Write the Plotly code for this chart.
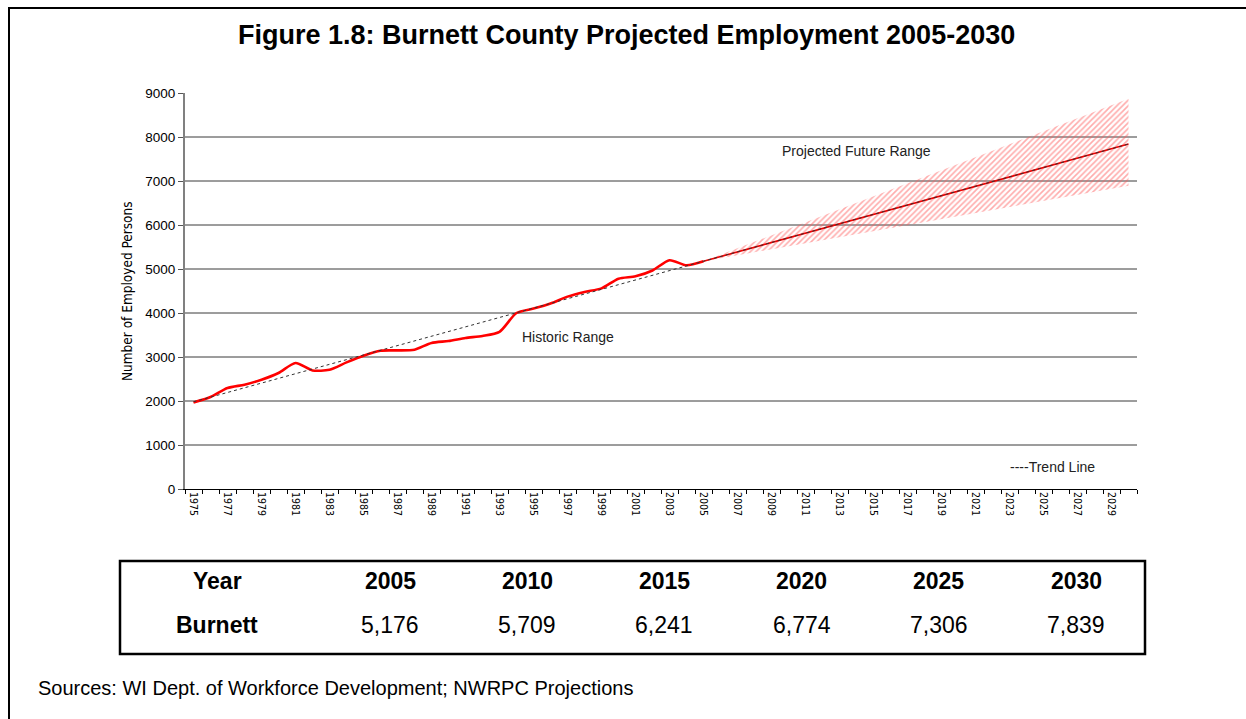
import plotly.graph_objects as go

# ---------------- data ----------------
hist_years = list(range(1975, 2006))
hist_emp = [1968, 2091, 2295, 2370, 2484, 2636, 2864, 2695, 2711, 2877,
            3030, 3143, 3150, 3166, 3320, 3363, 3433, 3479, 3572, 4000,
            4100, 4216, 4372, 4479, 4560, 4780, 4835, 4967, 5200, 5084, 5176]

proj_years = [2005, 2010, 2015, 2020, 2025, 2030]
proj_emp = [5176, 5709, 6241, 6774, 7306, 7839]
range_high = [5176, 5915, 6654, 7393, 8131, 8870]
range_low = [5176, 5519, 5862, 6205, 6547, 6890]

trend_years = [1975, 2030]
trend_emp = [1981, 7839]

x_tick_years = list(range(1975, 2030, 2))
y_ticks = list(range(0, 9001, 1000))
grid_vals = list(range(1000, 9000, 1000))

table_row_label = "Burnett"
table_head_label = "Year"

title_text = "Figure 1.8: Burnett County Projected Employment 2005-2030"
source_text = "Sources: WI Dept. of Workforce Development; NWRPC Projections"

# ---------------- layout helpers ----------------
W, H = 1246, 719
L, R, T, B = 185, 1137, 93, 489


def px(x):
    return (x - L) / (R - L)


def py(y):
    return (B - y) / (B - T)


SANS = "Liberation Sans, Arial, sans-serif"
NARROW = "Liberation Sans Narrow, Arial Narrow, DejaVu Sans Condensed, sans-serif"

fig = go.Figure()

# projected range band (hatched)
fig.add_trace(go.Scatter(x=proj_years, y=range_low, mode="lines",
                         line=dict(width=0, color="rgba(0,0,0,0)"),
                         hoverinfo="skip"))
fig.add_trace(go.Scatter(x=proj_years, y=range_high, mode="lines",
                         line=dict(width=0, color="rgba(0,0,0,0)"),
                         fill="tonexty", fillcolor="rgba(0,0,0,0)",
                         fillpattern=dict(shape="/", fgcolor="#ff5a5a",
                                          bgcolor="rgba(255,255,255,0)",
                                          size=4, solidity=0.4),
                         hoverinfo="skip"))

# historic line
fig.add_trace(go.Scatter(x=hist_years, y=hist_emp, mode="lines",
                         line=dict(color="#ff0000", width=2.6, shape="spline",
                                   smoothing=0.7)))
# projection line
fig.add_trace(go.Scatter(x=proj_years, y=proj_emp, mode="lines",
                         line=dict(color="#f00000", width=1.6)))
# trend line
fig.add_trace(go.Scatter(x=trend_years, y=trend_emp, mode="lines",
                         line=dict(color="#333333", width=1, dash="3px,3px")))

shapes = []
for v in grid_vals:
    shapes.append(dict(type="line", xref="paper", yref="y", x0=0, x1=1,
                       y0=v, y1=v, line=dict(color="#3a3a3a", width=1),
                       layer="below"))

# outer frame (top and left lines)
shapes.append(dict(type="line", xref="paper", yref="paper",
                   x0=px(8), x1=px(W + 5), y0=py(8), y1=py(8),
                   line=dict(color="black", width=2)))
shapes.append(dict(type="line", xref="paper", yref="paper",
                   x0=px(9), x1=px(9), y0=py(8), y1=py(H + 5),
                   line=dict(color="black", width=2)))

# table box
shapes.append(dict(type="rect", xref="paper", yref="paper",
                   x0=px(120), x1=px(1145), y0=py(561), y1=py(654),
                   line=dict(color="black", width=2.5)))


def ann(text, x, y, size, family=SANS, xanchor="center", **kw):
    d = dict(text=text, xref="paper", yref="paper", x=px(x), y=py(y),
             showarrow=False, xanchor=xanchor, yanchor="middle",
             font=dict(family=family, size=size, color="black"))
    d.update(kw)
    return d


annotations = []
annotations.append(ann("<b>" + title_text + "</b>", 626, 35, 27))
annotations.append(ann("Number of Employed Persons", 127, 291, 13.5,
                       family=NARROW, textangle=-90))

for text, xv, yv in [("Projected Future Range", 2014.0, 7682),
                     ("Historic Range", 1997.0, 3455),
                     ("----Trend Line", 2025.5, 500)]:
    annotations.append(dict(text=text, x=xv, y=yv, showarrow=False,
                            xanchor="center", yanchor="middle",
                            font=dict(family=SANS, size=14, color="#222222")))

# table contents
col_x = [217] + [390 + 137.2 * i for i in range(len(proj_years))]
annotations.append(ann("<b>" + table_head_label + "</b>", col_x[0], 581, 23))
annotations.append(ann("<b>" + table_row_label + "</b>", col_x[0], 625, 23))
for i, (yr, val) in enumerate(zip(proj_years, proj_emp)):
    annotations.append(ann("<b>%d</b>" % yr, col_x[i + 1], 581, 23))
    annotations.append(ann(f"{val:,}", col_x[i + 1], 625, 23))

annotations.append(ann(source_text, 36, 688, 20, xanchor="left"))

fig.update_layout(
    width=W, height=H,
    margin=dict(l=L, r=W - R, t=T, b=H - B, pad=0),
    paper_bgcolor="white", plot_bgcolor="white",
    showlegend=False,
    shapes=shapes, annotations=annotations,
    xaxis=dict(range=[1974.5, 2030.5], tickmode="array",
               tickvals=x_tick_years, ticktext=[str(y) for y in x_tick_years],
               tickangle=90, ticks="", showgrid=False, zeroline=False,
               showline=True, linecolor="black", linewidth=1,
               tickfont=dict(family=NARROW, size=10.5, color="black"),
               minor=dict(tickmode="linear", tick0=1974.5, dtick=1,
                          ticks="outside", ticklen=4, tickcolor="black",
                          showgrid=False)),
    yaxis=dict(range=[0, 9000], tickmode="array", tickvals=y_ticks,
               ticks="outside", ticklen=5, tickcolor="#555555",
               showgrid=False, zeroline=False, showline=True,
               linecolor="#808080", linewidth=2,
               tickfont=dict(family=SANS, size=13.5, color="black")),
)

fig.write_html("out.html",
               config={"displayModeBar": False},
               post_script="document.body.style.margin='0';"
                           "document.body.style.overflow='hidden';")
